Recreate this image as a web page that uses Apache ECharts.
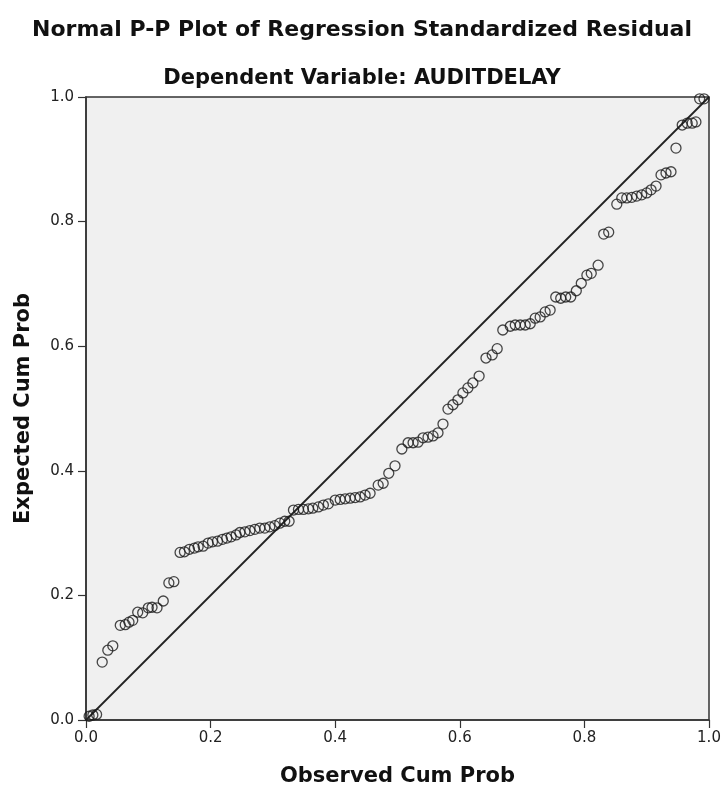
<!DOCTYPE html>
<html>
<head>
<meta charset="utf-8">
<script src="https://cdn.jsdelivr.net/npm/echarts@6/dist/echarts.min.js"></script>
<style>
  * { margin: 0; padding: 0; }
  body { background: #fff; }
</style>
</head>
<body>
<!-- container with a fixed size -->
<div id="main" style="width:724px;height:792px;"></div>
<script>
  // observed cum prob (x) and expected cum prob (y)
  var observed = [
    0.005, 0.011, 0.017, 0.026, 0.035, 0.043, 0.055, 0.063, 0.069, 0.075,
    0.083, 0.091, 0.100, 0.106, 0.114, 0.124, 0.133, 0.141, 0.151, 0.158,
    0.166, 0.174, 0.180, 0.188, 0.196, 0.203, 0.211, 0.219, 0.226, 0.233,
    0.241, 0.247, 0.255, 0.263, 0.271, 0.279, 0.287, 0.295, 0.303, 0.311,
    0.319, 0.326, 0.333, 0.341, 0.349, 0.357, 0.364, 0.373, 0.381, 0.389,
    0.400, 0.408, 0.416, 0.424, 0.432, 0.440, 0.448, 0.456, 0.469, 0.477,
    0.486, 0.496, 0.507, 0.517, 0.525, 0.533, 0.541, 0.549, 0.557, 0.565,
    0.573, 0.581, 0.589, 0.597, 0.605, 0.613, 0.621, 0.631, 0.642, 0.652,
    0.660, 0.669, 0.681, 0.689, 0.697, 0.705, 0.713, 0.721, 0.729, 0.737,
    0.745, 0.754, 0.762, 0.770, 0.778, 0.787, 0.795, 0.804, 0.811, 0.822,
    0.831, 0.839, 0.852, 0.860, 0.868, 0.876, 0.884, 0.892, 0.900, 0.907,
    0.915, 0.923, 0.931, 0.939, 0.947, 0.957, 0.965, 0.973, 0.979, 0.985,
    0.992
  ];
  var expected = [
    0.006, 0.008, 0.009, 0.093, 0.112, 0.119, 0.152, 0.153, 0.157, 0.160,
    0.173, 0.172, 0.180, 0.181, 0.180, 0.191, 0.220, 0.222, 0.269, 0.270,
    0.274, 0.276, 0.278, 0.279, 0.284, 0.286, 0.287, 0.290, 0.292, 0.294,
    0.297, 0.301, 0.302, 0.304, 0.306, 0.308, 0.308, 0.310, 0.312, 0.316,
    0.319, 0.319, 0.337, 0.338, 0.338, 0.339, 0.340, 0.342, 0.345, 0.347,
    0.353, 0.354, 0.355, 0.356, 0.357, 0.358, 0.361, 0.364, 0.377, 0.380,
    0.396, 0.408, 0.435, 0.445, 0.445, 0.446, 0.453, 0.454, 0.456, 0.461,
    0.475, 0.499, 0.506, 0.514, 0.525, 0.533, 0.541, 0.552, 0.581, 0.586,
    0.596, 0.626, 0.632, 0.634, 0.634, 0.634, 0.636, 0.645, 0.647, 0.655,
    0.658, 0.679, 0.677, 0.679, 0.679, 0.689, 0.701, 0.714, 0.717, 0.730,
    0.780, 0.783, 0.828, 0.838, 0.838, 0.839, 0.841, 0.843, 0.846, 0.851,
    0.857, 0.875, 0.878, 0.880, 0.918, 0.955, 0.958, 0.958, 0.960, 0.997,
    0.997
  ];
  // reference diagonal ends
  var diagonal = [0, 1];
  var tickStep = 0.2;

  var points = observed.map(function (x, i) { return [x, expected[i]]; });
  var line = diagonal.map(function (v) { return [v, v]; });

  var font = 'DejaVu Sans';
  var axisCommon = {
    type: 'value',
    min: 0,
    max: 1,
    interval: tickStep,
    nameLocation: 'middle',
    nameTextStyle: { fontFamily: font, fontWeight: 'bold', fontSize: 21, color: '#111' },
    axisLine: { lineStyle: { color: '#333', width: 1.5 } },
    axisTick: { length: 8, lineStyle: { color: '#333', width: 1.2 } },
    axisLabel: {
      fontFamily: font, fontSize: 15, color: '#222',
      formatter: function (v) { return v.toFixed(1); }
    },
    splitLine: { show: false }
  };

  var chart = echarts.init(document.getElementById('main'));
  chart.setOption({
    animation: false,
    backgroundColor: '#fff',
    title: [
      {
        text: 'Normal P-P Plot of Regression Standardized Residual',
        left: 'center', top: 14,
        textStyle: { fontFamily: font, fontWeight: 'bold', fontSize: 22, color: '#111' }
      },
      {
        text: 'Dependent Variable: AUDITDELAY',
        left: 'center', top: 63,
        textStyle: { fontFamily: font, fontWeight: 'bold', fontSize: 21, color: '#111' }
      }
    ],
    grid: {
      left: 86, right: 15, top: 97, bottom: 72,
      show: true,
      backgroundColor: '#f0f0f0',
      borderColor: '#333',
      borderWidth: 1.5
    },
    xAxis: Object.assign({}, axisCommon, {
      name: 'Observed Cum Prob', nameGap: 46,
      axisLabel: Object.assign({}, axisCommon.axisLabel, { margin: 11 })
    }),
    yAxis: Object.assign({}, axisCommon, {
      name: 'Expected Cum Prob', nameGap: 52, nameRotate: 90,
      axisLabel: Object.assign({}, axisCommon.axisLabel, { margin: 12 })
    }),
    series: [
      {
        type: 'line',
        data: line,
        symbol: 'none',
        lineStyle: { color: '#222', width: 1.8 },
        z: 1
      },
      {
        type: 'scatter',
        data: points,
        symbol: 'circle',
        symbolSize: 10,
        itemStyle: { color: 'rgba(0,0,0,0)', borderColor: '#1a1a1a', borderWidth: 1.3 },
        z: 2
      }
    ]
  });
</script>
</body>
</html>
